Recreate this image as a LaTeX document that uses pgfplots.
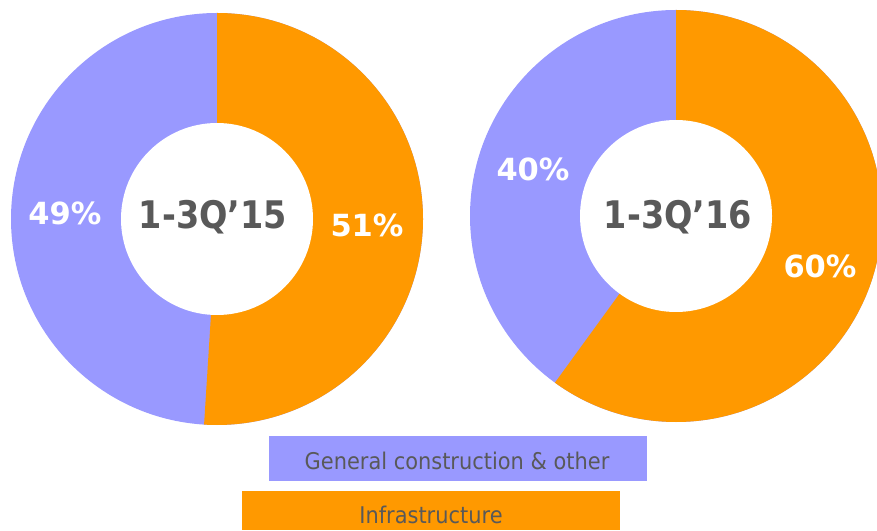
\documentclass[border=0pt]{standalone}
\usepackage{pgfplots}
\pgfplotsset{compat=1.18}
\usepackage{pgfplotstable}
\usepackage{fontspec}
\setmainfont{DejaVu Sans}
\newfontfamily\centerfont[FakeStretch=0.88]{DejaVu Sans}
\newfontfamily\legfont[FakeStretch=0.91]{DejaVu Sans}
\definecolor{genc}{HTML}{9999FF}
\definecolor{infc}{HTML}{FF9900}
\definecolor{txtc}{HTML}{595959}

\pgfplotstableread{
chart gen infra
0 49 51
1 40 60
}\sharedata

\begin{document}
\begin{tikzpicture}
\pgfplotstablegetelem{0}{infra}\of\sharedata \edef\infA{\pgfplotsretval}
\pgfplotstablegetelem{0}{gen}\of\sharedata \edef\genA{\pgfplotsretval}
\pgfplotstablegetelem{1}{infra}\of\sharedata \edef\infB{\pgfplotsretval}
\pgfplotstablegetelem{1}{gen}\of\sharedata \edef\genB{\pgfplotsretval}
\pgfmathsetmacro{\endA}{90-3.6*\infA}
\pgfmathsetmacro{\endB}{90-3.6*\infB}
\useasboundingbox (0,0) rectangle (877pt,530pt);
\begin{axis}[
  x=1pt, y=1pt, scale only axis,
  xmin=0, xmax=877, ymin=0, ymax=530,
  anchor=south west, at={(0pt,0pt)},
  hide axis,
]
% donut 1
\fill[genc] (axis cs:217,311) circle[radius=206pt];
\fill[infc] (axis cs:217,311) -- ++(90:206pt) arc[start angle=90, end angle=\endA, radius=206pt] -- cycle;
\fill[white] (axis cs:217,311) circle[radius=96pt];
% donut 2
\fill[genc] (axis cs:676,314) circle[radius=206pt];
\fill[infc] (axis cs:676,314) -- ++(90:206pt) arc[start angle=90, end angle=\endB, radius=206pt] -- cycle;
\fill[white] (axis cs:676,314) circle[radius=96pt];
% labels
\node[anchor=base, text=white, font=\fontsize{30.5}{32}\selectfont\bfseries] at (axis cs:65,305) {\genA\%};
\node[anchor=base, text=white, font=\fontsize{30.5}{32}\selectfont\bfseries] at (axis cs:367,293) {\infA\%};
\node[anchor=base, text=white, font=\fontsize{30.5}{32}\selectfont\bfseries] at (axis cs:533,349) {\genB\%};
\node[anchor=base, text=white, font=\fontsize{30.5}{32}\selectfont\bfseries] at (axis cs:820,252) {\infB\%};
\node[anchor=base, text=txtc, font=\centerfont\fontsize{38}{40}\selectfont\bfseries] at (axis cs:213,301) {1-3Q’15};
\node[anchor=base, text=txtc, font=\centerfont\fontsize{38}{40}\selectfont\bfseries] at (axis cs:678,301) {1-3Q’16};
% legend
\fill[genc] (axis cs:269,49) rectangle (axis cs:647,94);
\node[anchor=base, text=txtc, font=\legfont\fontsize{23}{25}\selectfont] at (axis cs:457,61) {General construction \& other};
\fill[infc] (axis cs:242,0) rectangle (axis cs:620,39);
\node[anchor=base, text=txtc, font=\legfont\fontsize{23}{25}\selectfont] at (axis cs:431,7) {Infrastructure};
\end{axis}
\end{tikzpicture}
\end{document}
